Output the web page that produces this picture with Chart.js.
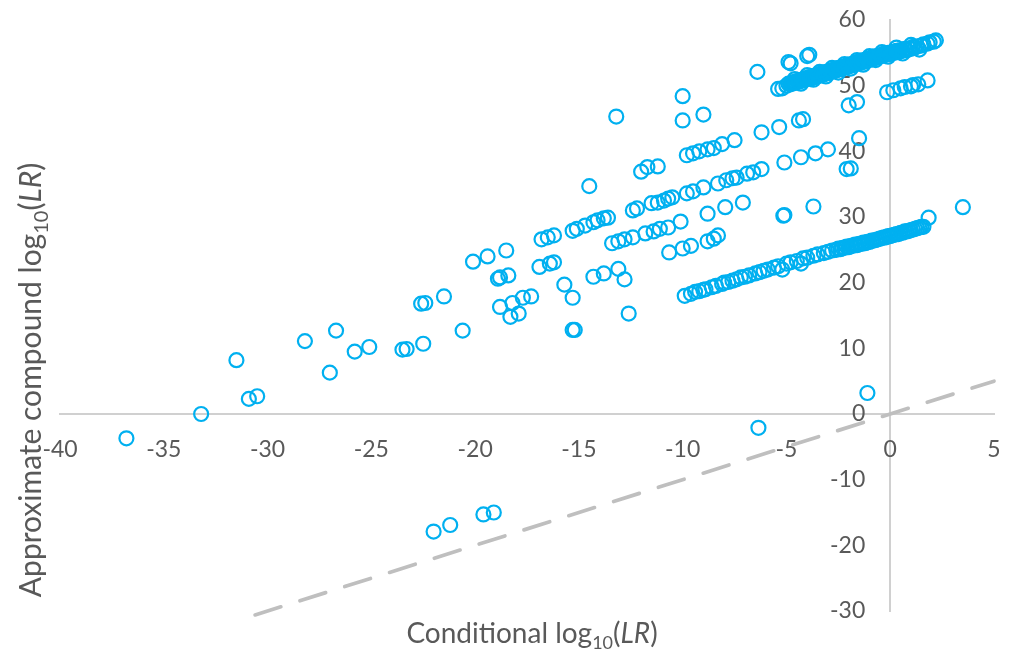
<!DOCTYPE html>
<html><head><meta charset="utf-8">
<script src="https://cdn.jsdelivr.net/npm/chart.js@4/dist/chart.umd.min.js"></script>
<style>html,body{margin:0;padding:0;background:#fff;overflow:hidden}#wrap{width:1011px;height:649px;position:relative}</style>
</head><body><div id="wrap"><canvas id="c" width="1011" height="649"></canvas></div>
<script>
// Axis ranges / tick steps
const xRange = [-40, 5];
const yRange = [-30, 60];
const xStep = 5;
const yStep = 10;

// Axis titles (rich text parts)
const xTitleParts = [{t:'Conditional log'},{t:'10',sub:true},{t:'('},{t:'LR',it:true},{t:')'}];
const yTitleParts = [{t:'Approximate compound log'},{t:'10',sub:true},{t:'('},{t:'LR',it:true},{t:')'}];

// Points [conditional, approximate compound]
const upperBand = [[-5.0,50.0],[-4.9,50.3],[-4.8,50.2],[-4.7,50.5],[-4.6,50.4],[-4.5,50.7],[-4.4,50.6],[-4.3,50.9],[-4.2,50.8],[-4.1,51.1],[-4.0,51.0],[-3.9,51.3],[-3.8,51.1],[-3.7,51.5],[-3.6,51.3],[-3.5,51.7],[-3.4,51.5],[-3.3,51.9],[-3.2,51.7],[-3.1,52.1],[-3.0,51.9],[-2.9,52.3],[-2.8,52.1],[-2.7,52.5],[-2.6,52.3],[-2.5,52.7],[-2.4,52.5],[-2.3,52.9],[-2.2,52.7],[-2.1,53.1],[-2.0,52.9],[-1.9,53.3],[-1.8,53.1],[-1.7,53.5],[-1.6,53.3],[-1.5,53.7],[-1.4,53.5],[-1.3,53.9],[-1.2,53.7],[-1.1,54.1],[-1.0,53.9],[-0.9,54.3],[-0.8,54.1],[-0.7,54.5],[-0.6,54.3],[-0.5,54.6],[-0.4,54.5],[-0.3,54.9],[-0.2,54.7],[-0.1,55.0],[0.0,54.8],[0.1,55.1],[0.2,55.0],[0.3,55.3],[0.4,55.1],[0.5,55.4],[0.6,55.3],[0.7,55.6],[0.8,55.4],[0.9,55.7],[1.0,55.6],[1.1,55.9],[1.2,55.8],[1.3,56.0],[1.5,56.1],[1.6,56.3],[1.8,56.4],[1.9,56.6],[2.1,56.7],[2.2,56.9]];
const upperBandDense = [[-4.75,50.4],[-4.65,50.5],[-4.55,50.5],[-4.45,50.7],[-4.35,50.7],[-4.25,50.9],[-4.15,50.9],[-4.05,51.1],[-3.95,51.1],[-3.85,51.3],[-3.75,51.3],[-3.65,51.5],[-3.55,51.5],[-3.45,51.7],[-3.35,51.7],[-3.25,51.9],[-3.15,51.9],[-3.05,52.0],[-2.95,52.1],[-2.85,52.2],[-2.75,52.3],[-2.65,52.4],[-2.55,52.5],[-2.45,52.6],[-2.35,52.7],[-2.25,52.8],[-2.15,52.9],[-2.05,53.0],[-1.95,53.1],[-1.85,53.2],[-1.75,53.3],[-1.65,53.4],[-1.55,53.5],[-1.45,53.6],[-1.35,53.7],[-1.25,53.8],[-1.15,53.9],[-1.05,54.0],[-0.95,54.1],[-0.85,54.2],[-0.75,54.3],[-0.65,54.4],[-0.55,54.5],[-0.45,54.6],[-0.35,54.7],[-0.25,54.8],[-0.15,54.8],[-0.05,54.9],[0.05,55.0],[0.15,55.1],[0.25,55.2],[0.35,55.3],[0.45,55.3]];
const upperBandSpread = [[-4.6,51.0],[-4.3,50.3],[-4.0,51.6],[-3.7,50.9],[-3.4,52.1],[-3.1,51.4],[-2.8,52.7],[-2.5,52.0],[-2.2,53.3],[-1.9,52.6],[-1.6,53.9],[-1.3,53.2],[-1.0,54.5],[-0.7,53.9],[-0.4,55.1],[-0.1,54.4],[0.3,55.8],[0.6,54.9],[1.0,56.2],[1.4,55.5]];
const lowerBand = [[-9.9,18.0],[-9.6,18.3],[-9.4,18.6],[-9.2,18.7],[-9.0,18.9],[-8.9,19.0],[-8.6,19.3],[-8.4,19.5],[-8.1,19.8],[-8.0,20.0],[-7.8,20.1],[-7.6,20.3],[-7.4,20.5],[-7.2,20.8],[-7.0,20.9],[-6.8,21.1],[-6.5,21.4],[-6.3,21.6],[-6.1,21.8],[-5.9,22.0],[-5.6,22.3],[-5.4,22.5],[-5.0,22.9],[-4.8,23.1],[-4.5,23.3],[-4.2,23.7],[-4.0,23.8],[-3.7,24.1],[-3.5,24.3],[-3.2,24.5],[-3.0,24.7],[-2.8,24.9],[-2.6,25.0],[-2.5,25.2],[-2.4,25.1],[-2.3,25.3],[-2.2,25.3],[-2.1,25.5],[-2.0,25.4],[-1.9,25.6],[-1.8,25.6],[-1.7,25.8],[-1.6,25.7],[-1.5,25.9],[-1.4,25.9],[-1.3,26.1],[-1.2,26.0],[-1.1,26.2],[-1.0,26.2],[-0.9,26.4],[-0.8,26.4],[-0.7,26.5],[-0.6,26.6],[-0.5,26.7],[-0.4,26.8],[-0.3,26.9],[-0.2,26.9],[-0.1,27.1],[0.0,27.1],[0.1,27.2],[0.2,27.3],[0.3,27.4],[0.4,27.4],[0.5,27.6],[0.6,27.6],[0.7,27.8],[0.8,27.8],[0.9,27.9],[1.0,28.0],[1.1,28.1],[1.2,28.2],[1.3,28.3],[1.4,28.4],[1.5,28.5],[1.6,28.5]];
const leftPoints = [[-36.8,-3.7],[-33.2,0.0],[-31.5,8.2],[-30.9,2.3],[-30.5,2.7],[-28.2,11.1],[-26.7,12.7],[-27.0,6.3],[-25.8,9.5],[-25.1,10.2],[-23.5,9.8],[-23.3,9.9],[-22.5,10.7],[-22.6,16.8],[-22.4,16.9],[-21.5,17.9],[-20.6,12.7],[-20.1,23.2],[-19.4,24.0],[-18.5,24.9],[-18.9,20.6],[-18.8,20.8],[-18.4,21.1],[-18.8,16.3],[-18.2,16.9],[-17.7,17.7],[-17.3,17.9],[-18.3,14.8],[-17.9,15.3],[-16.9,22.4],[-16.4,22.9],[-16.2,23.1],[-16.8,26.6],[-16.5,26.9],[-16.2,27.2],[-15.7,19.7],[-15.3,17.7],[-15.3,12.8],[-15.2,12.8],[-15.3,27.9],[-15.1,28.2],[-14.7,28.7],[-14.3,29.2],[-14.1,29.5],[-13.8,29.8],[-13.6,29.9],[-14.5,34.7],[-14.3,20.9],[-13.8,21.4],[-13.1,22.1],[-12.8,20.5],[-12.6,15.3],[-13.2,45.3]];
const middleBands = [[-13.4,26.0],[-13.1,26.3],[-12.8,26.6],[-12.4,26.9],[-11.8,27.5],[-11.4,27.8],[-11.1,28.2],[-10.7,28.4],[-10.1,29.3],[-8.8,30.5],[-7.95,31.5],[-7.1,32.2],[-10.65,24.6],[-10.0,25.2],[-9.6,25.6],[-8.8,26.3],[-8.5,26.7],[-8.3,27.2],[-12.4,31.0],[-12.2,31.3],[-11.5,32.1],[-11.2,32.2],[-10.9,32.5],[-10.7,32.8],[-10.5,33.0],[-9.8,33.6],[-9.5,33.9],[-9.0,34.5],[-8.3,35.1],[-7.9,35.6],[-7.6,35.9],[-7.4,36.0],[-6.9,36.6],[-6.6,36.8],[-6.2,37.3],[-5.1,38.3],[-4.3,39.1],[-3.6,39.7],[-3.0,40.3],[-12.0,36.9],[-11.7,37.6],[-11.2,37.7],[-9.8,39.4],[-9.5,39.7],[-9.2,40.0],[-8.8,40.3],[-8.5,40.5],[-8.1,41.1],[-7.5,41.7],[-6.2,42.9],[-5.35,43.7],[-4.4,44.7],[-4.2,44.9]];
const upperOutliers = [[-10.0,48.4],[-10.0,44.7],[-9.0,45.6],[-6.4,52.1],[-4.9,53.6],[-4.8,53.4],[-4.0,54.5],[-3.9,54.7],[-2.0,47.0],[-1.6,47.5],[-1.5,42.0],[-2.1,37.3],[-1.9,37.4],[-5.4,49.5],[-5.2,49.6],[-0.15,49.0],[0.15,49.3],[0.5,49.6],[0.7,49.8],[1.0,49.9],[1.1,50.1],[1.35,50.2],[1.8,50.8]];
const otherPoints = [[-5.15,30.2],[-5.1,30.3],[-3.7,31.6],[3.5,31.5],[1.85,29.9],[-5.2,22.0],[-4.3,22.9],[-1.1,3.2],[-6.35,-2.1],[-22.0,-17.9],[-21.2,-16.9],[-19.6,-15.3],[-19.1,-15.0]];
const equalityLine = [[-30.6,-30.6],[5,5]];

const toXY = a => a.map(p => ({x:p[0], y:p[1]}));
const allPoints = [].concat(leftPoints, middleBands, upperOutliers, otherPoints, lowerBand, upperBandSpread, upperBandDense, upperBand);

const FONT = 'Lato';
const TXT = '#595959';
const TICK_SIZE = 23;
const X_TITLE_SIZE = 28;
const Y_TITLE_SIZE = 30;

function drawRich(ctx, parts, size){
  let w = 0;
  const items = parts.map(p => {
    const f = (p.it ? 'italic ' : '') + (p.sub ? Math.round(size*0.65) : size) + 'px ' + FONT;
    ctx.font = f;
    const wd = ctx.measureText(p.t).width;
    w += wd;
    return {t:p.t, f, wd, dy: p.sub ? size*0.22 : 0};
  });
  let x = -w/2;
  items.forEach(it => { ctx.font = it.f; ctx.fillText(it.t, x, it.dy); x += it.wd; });
}

// Tick labels drawn from the library's own scale ticks, Excel-style next to crossing axes
const tickLabelPlugin = {
  id: 'tickLabels',
  beforeDatasetsDraw(chart){
    const ctx = chart.ctx, xs = chart.scales.x, ys = chart.scales.y;
    const x0 = xs.getPixelForValue(0), y0 = ys.getPixelForValue(0);
    ctx.save();
    ctx.fillStyle = TXT;
    ctx.font = TICK_SIZE + 'px ' + FONT;
    ctx.textAlign = 'center';
    ctx.textBaseline = 'middle';
    xs.ticks.forEach(t => ctx.fillText(String(t.value), xs.getPixelForValue(t.value), y0 + 36));
    ctx.textAlign = 'right';
    ys.ticks.forEach(t => ctx.fillText(String(t.value), x0 - 25, ys.getPixelForValue(t.value)));
    ctx.restore();
  }
};

const titlesPlugin = {
  id: 'axisTitles',
  afterDraw(chart){
    const ctx = chart.ctx;
    ctx.save();
    ctx.fillStyle = TXT;
    ctx.textBaseline = 'alphabetic';
    ctx.textAlign = 'left';
    ctx.save();
    ctx.translate(532, 643);
    drawRich(ctx, xTitleParts, X_TITLE_SIZE);
    ctx.restore();
    ctx.save();
    ctx.translate(41, 380);
    ctx.rotate(-Math.PI/2);
    drawRich(ctx, yTitleParts, Y_TITLE_SIZE);
    ctx.restore();
    ctx.restore();
  }
};

new Chart(document.getElementById('c'), {
  type: 'scatter',
  data: {
    datasets: [
      {
        type: 'line',
        data: toXY(equalityLine),
        borderColor: '#BFBFBF',
        borderWidth: 3.7,
        borderDash: [27, 20],
        borderCapStyle: 'round',
        pointRadius: 0,
        fill: false,
        clip: 8,
        order: 2
      },
      {
        data: toXY(allPoints),
        pointStyle: 'circle',
        pointRadius: 7,
        pointBorderWidth: 2.2,
        pointBackgroundColor: 'rgba(0,0,0,0)',
        pointBorderColor: '#00B0F0',
        order: 1
      }
    ]
  },
  options: {
    responsive: false,
    animation: false,
    events: [],
    layout: { padding: { left: 60, right: 17, top: 20, bottom: 38 } },
    plugins: { legend: { display: false }, tooltip: { enabled: false } },
    scales: {
      x: {
        type: 'linear', min: xRange[0], max: xRange[1],
        position: { y: 0 },
        grid: { display: false, drawTicks: false },
        border: { color: '#D0D0D0', width: 2 },
        ticks: { stepSize: xStep, display: false }
      },
      y: {
        type: 'linear', min: yRange[0], max: yRange[1],
        position: { x: 0 },
        grid: { display: false, drawTicks: false },
        border: { color: '#D0D0D0', width: 2 },
        ticks: { stepSize: yStep, display: false }
      }
    }
  },
  plugins: [tickLabelPlugin, titlesPlugin]
});
</script></body></html>
